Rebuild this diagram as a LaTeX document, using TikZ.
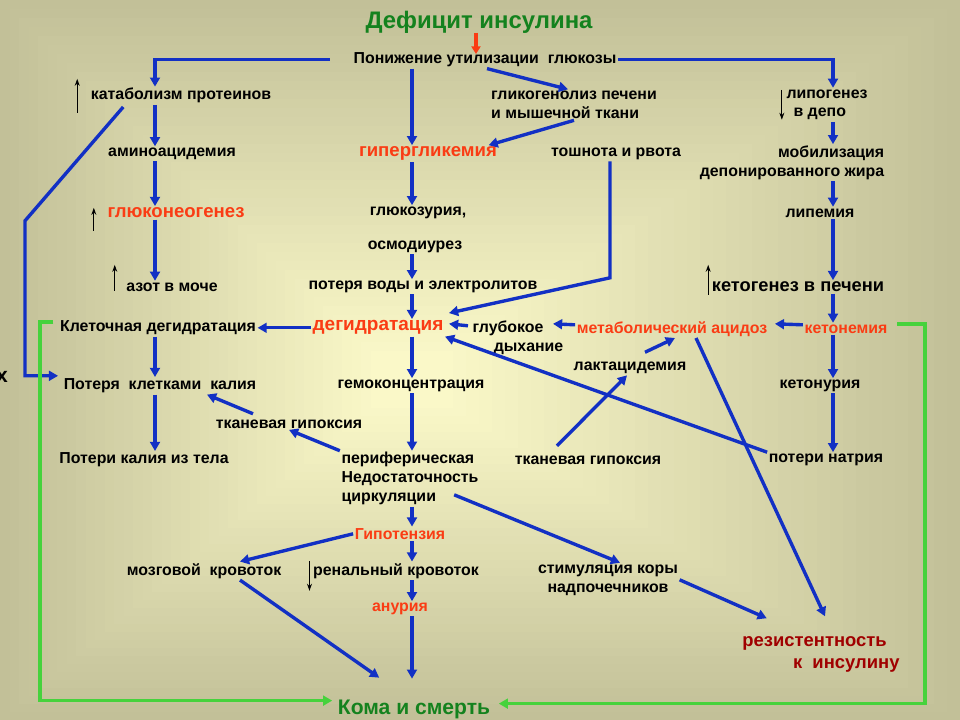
\documentclass[tikz,border=0pt]{standalone}
\usepackage{fontspec}
\setmainfont{Liberation Sans}
\usetikzlibrary{arrows.meta,calc}
\definecolor{arrblue}{RGB}{18,48,196}
\definecolor{hotred}{RGB}{250,60,20}
\definecolor{darkred}{RGB}{160,0,0}
\definecolor{titgreen}{RGB}{20,130,30}
\definecolor{linegreen}{RGB}{70,210,60}
\definecolor{bgout}{RGB}{194,192,152}
\definecolor{bgin}{RGB}{250,248,200}

\begin{document}
\begin{tikzpicture}[x=0.025cm,y=-0.025cm,
  every node/.style={font=\bfseries\fontsize{11.3}{13.5}\selectfont, inner sep=1pt, text=black, yshift=-2pt},
  hot/.style={text=hotred},
  hbig/.style={font=\bfseries\fontsize{13.2}{15}\selectfont},
  dbig/.style={font=\bfseries\fontsize{13.5}{16}\selectfont},
  kbig/.style={font=\bfseries\fontsize{13}{15}\selectfont},
  titl/.style={text=titgreen, font=\bfseries\fontsize{17}{20}\selectfont},
  koma/.style={text=titgreen, font=\bfseries\fontsize{15}{18}\selectfont},
  rez/.style={text=darkred, font=\bfseries\fontsize{13.1}{15.6}\selectfont},
  arr/.style={draw=arrblue, line width=2.4pt, -{Triangle[length=6.5pt,width=7pt]}},
  garr/.style={draw=linegreen, line width=2.6pt, -{Triangle[length=6.5pt,width=7pt]}},
  redarr/.style={draw=hotred, line width=2.4pt, -{Triangle[length=5.5pt,width=6.5pt]}},
  up/.style={draw=black, line width=0.8pt, -{Stealth[length=5pt,width=3.5pt]}}]
\useasboundingbox (0,0) rectangle (960,720);
\foreach \i in {0,...,39} {
  \pgfmathtruncatemacro\p{\i*100/39}
  \fill[bgin!\p!bgout] (\i*9.5,\i*9) rectangle (960-\i*13,720-\i*8);
}

\node[titl] (tit) at (479,20) {Дефицит инсулина};
\node (pon) at (485,57) {Понижение утилизации~ глюкозы};
\node (kat) at (181,93) {катаболизм протеинов};
\node[align=left] (gli) at (574,102) {гликогенолиз печени\\ и мышечной ткани};
\node[align=left] (lip) at (827,102) {липогенез\\\hspace*{5pt}в депо};
\node (ami) at (172,151) {аминоацидемия};
\node[hot,hbig] (hyp) at (428,151) {гипергликемия};
\node (tosh) at (616,151) {тошнота и рвота};
\node[align=right] (mob) at (792,160) {мобилизация\\депонированного жира};
\node[hot,hbig] (glu) at (176,210) {глюконеогенез};
\node (glz) at (418,210) {глюкозурия,};
\node (lpm) at (820,210) {липемия};
\node (osm) at (415,244) {осмодиурез};
\node (azot) at (172,284) {азот в моче};
\node (pvod) at (423,284) {потеря воды и электролитов};
\node[kbig] (keto) at (798,284) {кетогенез в печени};
\node (kdeg) at (158,325) {Клеточная дегидратация};
\node[hot,dbig] (deg) at (378,325) {дегидратация};
\node[align=left] (glub) at (518,335) {глубокое\\\hspace*{15pt}дыхание};
\node[hot] (met) at (672,326) {метаболический ацидоз};
\node[hot] (ketn) at (846,326) {кетонемия};
\node (lakt) at (630,365) {лактацидемия};
\node (pkal) at (160,383) {Потеря~ клетками~ калия};
\node (gem) at (411,383) {гемоконцентрация};
\node (ketu) at (820,383) {кетонурия};
\node (tgl) at (289,421) {тканевая гипоксия};
\node (ptel) at (144,457) {Потери калия из тела};
\node[align=left] (peri) at (410,476) {периферическая\\Недостаточность\\ циркуляции};
\node (tgr) at (588,457) {тканевая гипоксия};
\node (nat) at (826,457) {потери натрия};
\node[hot] (hypo) at (400,531) {Гипотензия};
\node (mozg) at (204,568) {мозговой~ кровоток};
\node (ren) at (396,568) {ренальный кровоток};
\node[align=center] (stim) at (608,577) {стимуляция коры\\надпочечников};
\node[hot] (anu) at (400,606) {анурия};
\node[rez,align=left] (rez) at (821,652) {резистентность\\\hspace*{36pt}к~ инсулину};
\node[koma] (koma) at (414,707) {Кома и смерть};
\node[font=\bfseries\fontsize{15}{18}\selectfont] (xx) at (2,374) {х};

\coordinate (cA) at (155,0);
\coordinate (cB) at (412,0);
\coordinate (cC) at (833,0);
\coordinate (tbend) at (610,275);
\coordinate (lbend) at (25,218);
\coordinate (gL) at (40,0);
\coordinate (gR) at (925,0);
\coordinate (kin) at ($(koma.west)+(-4,-12)$);
\coordinate (kin2) at ($(koma.east)+(7,-9)$);

\draw[redarr] ($(tit.south)+(-3,-3)$) -- ($(pon.north)+(-9,3)$);
\draw[arr] ($(pon.west)+(-22,0)$) -| (kat.north -| cA);
\draw[arr] (pon.east) -| (lip.north -| cC);
\draw[arr] (pon.south -| cB) -- (hyp.north -| cB);
\draw[arr] ($(pon.south)+(2,0)$) -- ($(gli.north)+(-6,0)$);
\draw[arr] (gli.south) -- ($(hyp.north east)+(-10,0)$);
\draw[arr] (kat.south -| cA) -- (ami.north -| cA);
\draw[arr] (ami.south -| cA) -- (glu.north -| cA);
\draw[arr] (glu.south -| cA) -- (azot.north -| cA);
\draw[arr] (hyp.south -| cB) -- (glz.north -| cB);
\draw[arr] (osm.south -| cB) -- (pvod.north -| cB);
\draw[arr] (pvod.south -| cB) -- (deg.north -| cB);
\draw[arr] (lip.south -| cC) -- (mob.north -| cC);
\draw[arr] (mob.south -| cC) -- (lpm.north -| cC);
\draw[arr] (lpm.south -| cC) -- (keto.north -| cC);
\draw[arr] (keto.south -| cC) -- (ketn.north -| cC);
\draw[arr] (ketn.south -| cC) -- (ketu.north -| cC);
\draw[arr] (ketu.south -| cC) -- (nat.north -| cC);
\draw[arr] (kdeg.south -| cA) -- (pkal.north -| cA);
\draw[arr] (pkal.south -| cA) -- (ptel.north -| cA);
\draw[arr] (deg.south -| cB) -- (gem.north -| cB);
\draw[arr] (gem.south -| cB) -- (peri.north -| cB);
\draw[arr] (peri.south -| cB) -- (hypo.north -| cB);
\draw[arr] (hypo.south -| cB) -- (ren.north -| cB);
\draw[arr] (ren.south -| cB) -- (anu.north -| cB);
\draw[arr] (anu.south -| cB) -- ($(koma.north -| cB)+(0,-20)$);
\draw[arr] (tosh.south -| tbend) -- (tbend) -- ($(deg.north east)+(4,-6)$);
\draw[arr] (deg.west) -- (kdeg.east);
\draw[arr] ($(glub.west)+(-3,-12)$) -- ($(deg.east)+(4,-4)$);
\draw[arr] ($(met.west)+(0,-4)$) -- ($(glub.east)+(-12,-14)$);
\draw[arr] ($(ketn.west)+(0,-4)$) -- ($(met.east)+(6,-5)$);
\draw[arr] (nat.north west) -- (deg.south east);
\draw[arr] ($(lakt.north)+(15,-8)$) -- ($(met.south)+(3,0)$);
\draw[arr] ($(met.south)+(24,0)$) -- ($(rez.north)+(4,-19)$);
\draw[arr] ($(tgr.north)+(-31,-8)$) -- ($(lakt.south)+(-3,0)$);
\draw[arr] ($(tgl.north)+(-36,-4)$) -- ($(pkal.south)+(47,0)$);
\draw[arr] (peri.north west) -- (tgl.south);
\draw[arr] ($(peri.east)+(-26,16)$) -- ($(stim.north)+(12,0)$);
\draw[arr] (hypo.west) -- ($(mozg.north)+(36,0)$);
\draw[arr] (stim.east) -- ($(rez.north west)+(26,-17)$);
\draw[arr] ($(mozg.south)+(36,0)$) -- ($(koma.north west)+(43,-21)$);
\draw[arr] ($(kat.south west)+(34,2)$) -- (lbend) |- ($(pkal.west)+(-4,-10)$);

\draw[garr] ($(kdeg.west)+(-5,-6)$) -| (gL |- kin) -- (kin);
\draw[garr] ($(ketn.east)+(8,-5)$) -| (gR |- kin2) -- (kin2);

\draw[up] ($(kat.west)+(-12,17)$) -- ++(0,-34);
\draw[up] ($(glu.west)+(-12,18)$) -- ++(0,-23);
\draw[up] ($(azot.west)+(-10,4)$) -- ++(0,-26);
\draw[up] ($(keto.west)+(-2,8)$) -- ++(0,-30);
\draw[up] ($(lip.north west)+(-3,2)$) -- ++(0,30);
\draw[up] ($(ren.west)+(-2,-10)$) -- ++(0,30);
\end{tikzpicture}
\end{document}
